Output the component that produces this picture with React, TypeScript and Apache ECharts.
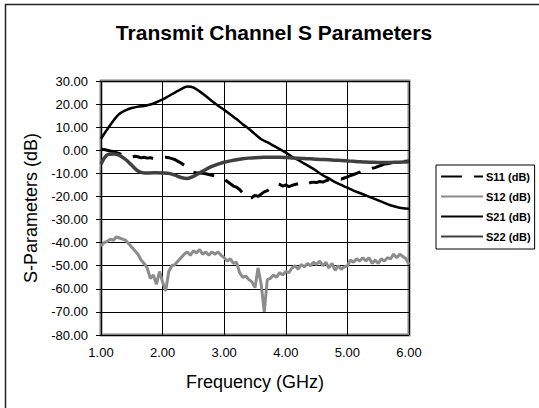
import React, { useEffect, useRef } from "react";
import * as echarts from "echarts";

const TITLE = "Transmit Channel S Parameters";
const X_NAME = "Frequency (GHz)";
const Y_NAME = "S-Parameters (dB)";
const SERIES_NAMES = ["S11 (dB)", "S12 (dB)", "S21 (dB)", "S22 (dB)"];

// frequency grids (GHz)
const freqFine: number[] = Array.from({ length: 101 }, (_, i) => +(1 + i * 0.05).toFixed(2));
const freqCoarse: number[] = Array.from({ length: 51 }, (_, i) => +(1 + i * 0.1).toFixed(1));

// S11 (dB) at freqFine
const s11: number[] = [
  0.5, 0.3, 0, -0.3, -0.5, -1, -1.5, -2, -2.5, -2.8,
  -3, -2.6, -2.8, -3.3, -3, -3.4, -3.2, -3.6, -3.4, -3.3,
  -3.2, -3, -3.2, -3.6, -4, -4.8, -5.5, -6.5, -8, -9,
  -9.5, -9.8, -9.8, -10, -10.2, -10.5, -10.8, -11.2, -11.5, -12,
  -12.5, -13.5, -14.5, -15.5, -16, -17, -18.5, -20.5, -21, -20.5,
  -19.5, -20, -19, -18, -17.5, -16.5, -15.5, -14.5, -14.8, -15.5,
  -15, -15.8, -15.2, -14.8, -14.5, -15, -14.2, -14.5, -14, -13.8,
  -14, -13.5, -13.8, -13.2, -12.8, -13, -12.5, -12.2, -12.5, -12,
  -11.5, -11, -10.5, -10, -9.5, -9, -8.8, -8.2, -7.8, -7.5,
  -7, -6.5, -6, -5.8, -5.5, -5.2, -5, -5, -4.8, -4.8,
  -4.5,
];

// S12 (dB) at freqFine
const s12: number[] = [
  -41.5, -40, -39.5, -38.5, -39, -37.5, -38, -38.5, -39, -40.5,
  -42, -43.5, -45, -47.5, -49, -51, -55.5, -54, -58, -52.5,
  -57, -61, -52.5, -50, -49.5, -48, -46.5, -45, -44, -45.5,
  -43.5, -44.5, -43, -45, -44, -45.5, -44, -45, -44, -45.5,
  -46.5, -48, -47, -49, -48.5, -53, -55, -54.5, -56, -57,
  -59.5, -51, -58, -70, -56, -55.5, -54, -55, -53, -54,
  -52.5, -53, -51, -50, -51.5, -49.5, -50.5, -49, -50, -48.5,
  -49.5, -48, -50, -48.5, -51, -49, -52, -50, -51.5, -50.5,
  -50, -47.5, -48.5, -47, -48, -46.5, -48, -46.5, -49, -47.5,
  -49, -47, -48, -46.5, -47, -45, -46.5, -45, -46, -47,
  -49.5,
];

// S21 (dB) at freqCoarse
const s21: number[] = [
  5, 9, 12.8, 15.8, 17.3, 18.3, 18.9, 19.2, 19.8, 20.8,
  22, 23.5, 25, 26.5, 27.6, 27.2, 25.5, 23.5, 21.3, 19.3,
  17.5, 15.5, 13.5, 11.3, 9.3, 7, 4.8, 3.5, 2, 0.5,
  -1, -2.8, -4.2, -5.8, -7.3, -9, -10.8, -12.2, -13.8, -15,
  -16.2, -17.5, -18.5, -19.5, -20.6, -21.7, -22.8, -23.8, -24.6, -25.1,
  -25.3,
];

// S22 (dB) at freqCoarse
const s22: number[] = [
  -6, -2, -1.6, -2.2, -4, -6.5, -9, -9.8, -9.8, -9.7,
  -9.8, -10, -10.8, -11.8, -12.2, -11.3, -9.8, -8.3, -7, -6,
  -5.2, -4.6, -4.1, -3.7, -3.4, -3.2, -3.1, -3, -3, -3,
  -3.1, -3.3, -3.5, -3.6, -3.7, -3.9, -4, -4.1, -4.3, -4.4,
  -4.6, -4.8, -5, -5.1, -5.2, -5.3, -5.3, -5.3, -5.2, -5.1,
  -5,
];

const X_MIN = 1, X_MAX = 6, X_STEP = 1;
const Y_MIN = -80, Y_MAX = 30, Y_STEP = 10;

const pair = (xs: number[], ys: number[]) => ys.map((v, i) => [xs[i], v]);

export default function App() {
  const ref = useRef<HTMLDivElement>(null);
  useEffect(() => {
    if (!ref.current) return;
    const chart = echarts.init(ref.current, null, { renderer: "svg" });
    const font = "Arial, 'Liberation Sans', sans-serif";
    chart.setOption({
      animation: false,
      backgroundColor: "#ffffff",
      textStyle: { fontFamily: font },
      title: {
        text: TITLE,
        left: 274,
        top: 22,
        textAlign: "center",
        padding: 0,
        textStyle: { fontSize: 21, fontWeight: "bold", color: "#000", fontFamily: font },
      },
      graphic: [
        {
          type: "rect",
          shape: { x: 5.5, y: 4.5, width: 545, height: 420 },
          style: { fill: "none", stroke: "#222", lineWidth: 1.5 },
          silent: true,
          z: 100,
        },
      ],
      legend: {
        orient: "vertical",
        left: 436,
        top: 165,
        padding: [6, 4, 7, 4],
        itemGap: 9,
        itemWidth: 42,
        itemHeight: 12,
        borderColor: "#000",
        borderWidth: 1,
        backgroundColor: "#fff",
        itemStyle: { opacity: 0 },
        textStyle: { fontSize: 11, fontWeight: "bold", color: "#000", fontFamily: font, padding: [0, 0, 0, -2] },
        data: SERIES_NAMES,
      },
      grid: {
        left: 101,
        right: 130,
        top: 81,
        bottom: 73,
        show: true,
        borderColor: "#808080",
        borderWidth: 3,
        backgroundColor: "transparent",
      },
      xAxis: {
        type: "value",
        min: X_MIN,
        max: X_MAX,
        interval: X_STEP,
        name: X_NAME,
        nameLocation: "middle",
        nameGap: 38,
        nameTextStyle: { fontSize: 18, color: "#000", fontFamily: font },
        axisLine: { show: false },
        axisTick: { show: false },
        axisLabel: {
          fontSize: 13,
          color: "#000",
          margin: 11,
          fontFamily: font,
          formatter: (v: number) => v.toFixed(2),
        },
        splitLine: { show: true, lineStyle: { color: "#000", width: 1 } },
      },
      yAxis: {
        type: "value",
        min: Y_MIN,
        max: Y_MAX,
        interval: Y_STEP,
        name: Y_NAME,
        nameLocation: "middle",
        nameGap: 61,
        nameTextStyle: { fontSize: 18, color: "#000", fontFamily: font },
        axisLine: { show: false },
        axisTick: { show: true, inside: false, length: 5, lineStyle: { color: "#000", width: 1 } },
        axisLabel: {
          fontSize: 13,
          color: "#000",
          margin: 13,
          fontFamily: font,
          formatter: (v: number) => v.toFixed(2),
        },
        splitLine: { show: true, lineStyle: { color: "#000", width: 1 } },
      },
      series: [
        {
          name: SERIES_NAMES[0],
          type: "line",
          data: pair(freqFine, s11),
          showSymbol: false,
          symbol: "none",
          color: "#000",
          lineStyle: { color: "#000", width: 3, type: [21, 12] },
          z: 2,
        },
        {
          name: SERIES_NAMES[1],
          type: "line",
          data: pair(freqFine, s12),
          showSymbol: false,
          symbol: "none",
          color: "#8c8c8c",
          lineStyle: { color: "#8c8c8c", width: 3 },
          z: 2,
        },
        {
          name: SERIES_NAMES[2],
          type: "line",
          data: pair(freqCoarse, s21),
          showSymbol: false,
          symbol: "none",
          smooth: 0.3,
          color: "#000",
          lineStyle: { color: "#000", width: 2.5 },
          z: 2,
        },
        {
          name: SERIES_NAMES[3],
          type: "line",
          data: pair(freqCoarse, s22),
          showSymbol: false,
          symbol: "none",
          smooth: 0.3,
          color: "#404040",
          lineStyle: { color: "#404040", width: 3.5 },
          z: 2,
        },
      ],
    });
    return () => chart.dispose();
  }, []);
  return <div ref={ref} style={{ width: 539, height: 408, position: "absolute", left: 0, top: 0 }} />;
}
